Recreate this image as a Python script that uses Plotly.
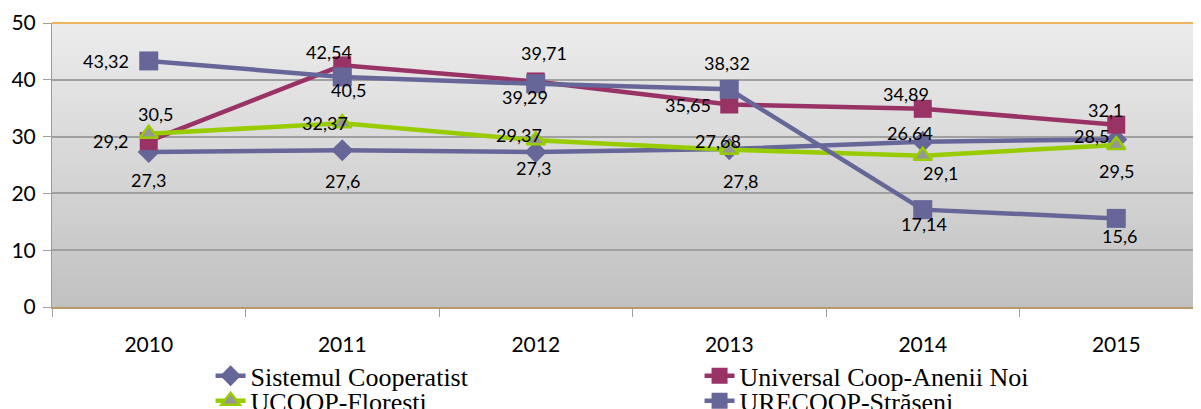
import plotly.graph_objects as go

# ---------------- data ----------------
years = ["2010", "2011", "2012", "2013", "2014", "2015"]
sistemul = [27.3, 27.6, 27.3, 27.8, 29.1, 29.5]
universal = [29.2, 42.54, 39.71, 35.65, 34.89, 32.1]
ucoop = [30.5, 32.37, 29.37, 27.68, 26.64, 28.5]
urecoop = [43.32, 40.5, 39.29, 38.32, 17.14, 15.6]

series_names = ["Sistemul Cooperatist", "Universal Coop-Anenii Noi",
                "UCOOP-Floresti", "URECOOP-Străseni"]

# ---------------- styles ----------------
PURPLE = "#666699"
MAROON = "#993366"
GREEN = "#99cc00"
TRI_FILL = "#969696"
LBL_FONT = dict(family="Lato", size=18, color="black")

# label offsets (px) per point: (dx, dy up)
off_sist = [(0, -28), (0, -31), (-2, -16), (11, -32), (18, -31), (0, -32)]
off_ucoop = [(7, 20), (-17, 0), (-17, 5), (-11, 9), (-13, 23), (-25, 9)]
off_univ = [(-38, 0), (-13, 13), (8, 28), (-41, 0), (-17, 15), (-11, 15)]
off_urec = [(-43, 0), (6, -13), (-11, -13), (-2, 26), (1, -14), (3, -18)]

fig = go.Figure()

fig.add_trace(go.Scatter(
    x=years, y=sistemul, name=series_names[0], mode="lines+markers",
    line=dict(color=PURPLE, width=4.5),
    marker=dict(symbol="diamond", size=17, color=PURPLE, line=dict(width=0)),
    legend="legend"))
fig.add_trace(go.Scatter(
    x=years, y=universal, name=series_names[1], mode="lines+markers",
    line=dict(color=MAROON, width=4.5),
    marker=dict(symbol="square", size=18, color=MAROON, line=dict(width=0)),
    legend="legend"))
fig.add_trace(go.Scatter(
    x=years, y=ucoop, name=series_names[2], mode="lines+markers",
    line=dict(color=GREEN, width=4.5),
    marker=dict(symbol="triangle-up", size=16, color=TRI_FILL,
                line=dict(width=2.5, color=GREEN)),
    legend="legend2"))
fig.add_trace(go.Scatter(
    x=years, y=urecoop, name=series_names[3], mode="lines+markers",
    line=dict(color=PURPLE, width=4.5),
    marker=dict(symbol="square", size=19, color=PURPLE, line=dict(width=0)),
    legend="legend2"))

# data labels
def fmt(v):
    return ("%g" % v).replace(".", ",")

annotations = []
for vals, offs in [(sistemul, off_sist), (ucoop, off_ucoop),
                   (universal, off_univ), (urecoop, off_urec)]:
    for idx, (yv, (dx, dy)) in enumerate(zip(vals, offs)):
        annotations.append(dict(
            x=idx, y=yv, xref="x", yref="y", text=fmt(yv), showarrow=False,
            xshift=dx, yshift=dy, font=LBL_FONT))

# gradient background for plot area
shapes = []
n_bands = 80
top_c = (236, 236, 236)
bot_c = (193, 193, 193)
for i in range(n_bands):
    t = i / (n_bands - 1)
    c = tuple(round(bot_c[k] + (top_c[k] - bot_c[k]) * t) for k in range(3))
    shapes.append(dict(
        type="rect", xref="paper", yref="paper",
        x0=0, x1=1, y0=i / n_bands, y1=(i + 1) / n_bands + 0.002,
        fillcolor="rgb(%d,%d,%d)" % c, line=dict(width=0), layer="below"))
# orange top border
shapes.append(dict(type="line", xref="paper", yref="paper", x0=0, x1=1,
                   y0=1, y1=1, line=dict(color="#f0a030", width=1.5),
                   layer="above"))

legend_common = dict(
    orientation="h", xanchor="left", yanchor="middle", x=0.138,
    font=dict(family="Liberation Serif", size=26, color="black"),
    entrywidth=444, entrywidthmode="pixels",
    bgcolor="rgba(0,0,0,0)", borderwidth=0, tracegroupgap=0)

# page body has an 8px margin: figure is sized/offset to compensate
fig.update_layout(
    width=1193, height=401,
    margin=dict(l=44, r=0, t=15, b=102, autoexpand=False),
    paper_bgcolor="white", plot_bgcolor="rgb(214,214,214)",
    showlegend=True,
    legend=dict(legend_common, y=-0.2425),
    legend2=dict(legend_common, y=-0.3305),
    shapes=shapes, annotations=annotations,
    xaxis=dict(
        type="category", range=[-0.5, 5.438], tickson="boundaries",
        ticks="outside", ticklen=8, tickcolor="#a0a0a0", tickwidth=1,
        showgrid=False, showline=True, linecolor="#b8996c", linewidth=2,
        tickfont=dict(family="Lato", size=21, color="black"),
        ticklabelstandoff=18, zeroline=False),
    yaxis=dict(
        range=[0, 50], dtick=10, tick0=0,
        ticks="outside", ticklen=8, tickcolor="#a0a0a0", tickwidth=1,
        showgrid=True, gridcolor="#a0a0a0", gridwidth=1.5,
        showline=True, linecolor="#a39b8c", linewidth=1,
        tickfont=dict(family="Lato", size=21, color="black"),
        ticklabelstandoff=3, zeroline=False),
)

fig.write_html("out.html")
